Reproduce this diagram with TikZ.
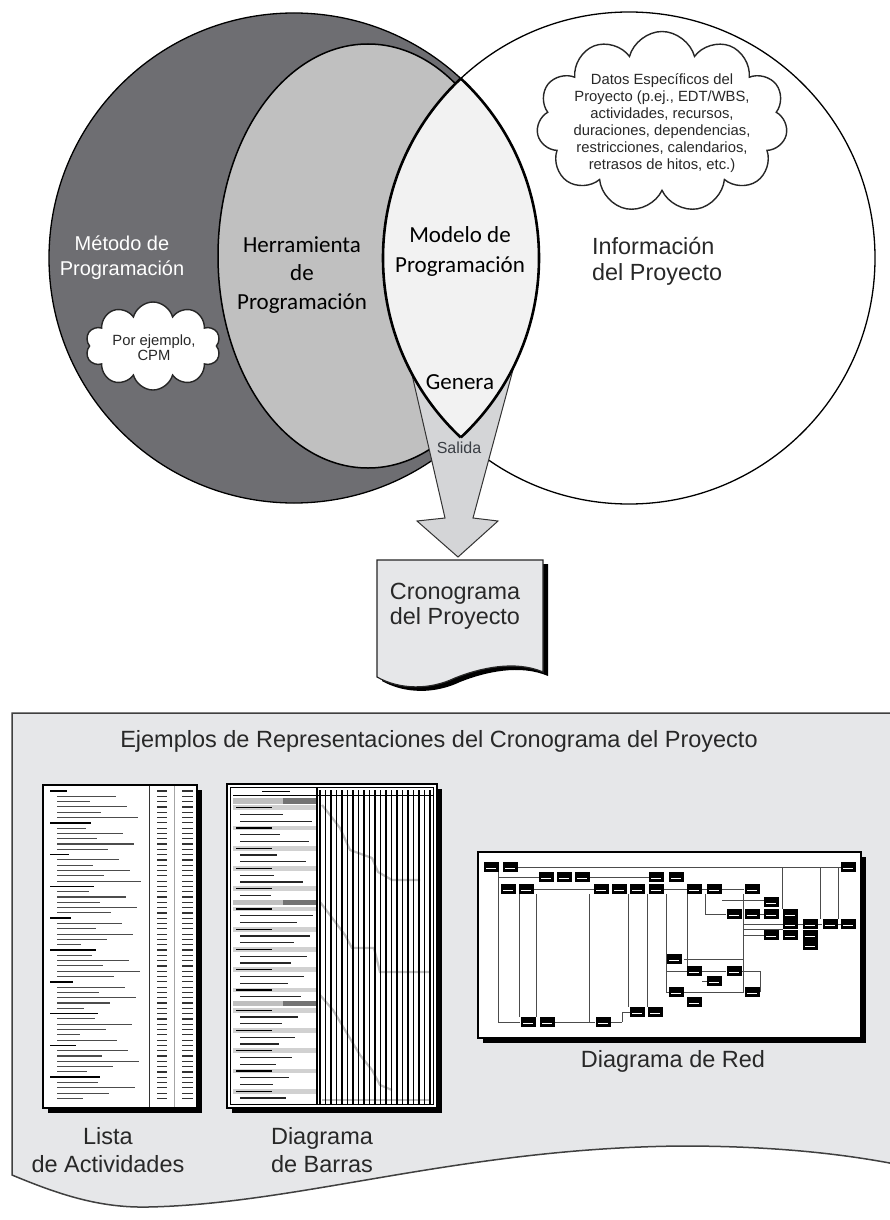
\documentclass[tikz,border=0pt]{standalone}
\usepackage{fontspec}
\setmainfont{Liberation Sans}
\newfontfamily\calib{Carlito}
\usetikzlibrary{shapes.symbols}
\definecolor{darkc}{RGB}{110,110,114}
\definecolor{midc}{RGB}{192,192,192}
\definecolor{lensc}{RGB}{242,242,242}
\definecolor{arrowc}{RGB}{212,213,215}
\definecolor{panelc}{RGB}{230,231,233}
\definecolor{txtc}{RGB}{40,40,40}
\definecolor{salc}{RGB}{58,62,68}
\tikzset{
  outl/.style={draw=black, line width=1.3},
  txt/.style={inner sep=0, align=center},
  cloudbox/.style={cloud, cloud puffs=#1, cloud ignores aspect, draw=black!85, line width=1.4, fill=white, inner sep=0},
  netl/.style={draw=black!70, line width=0.8},
  shadowc/.style={fill=black},
}
\begin{document}
\begin{tikzpicture}[x=1pt,y=-1pt]
\useasboundingbox (0,0) rectangle (890,1220);
\fill[white] (0,0) rectangle (890,1220);

% ---- Venn part ----
\filldraw[fill=darkc, outl] (294,258) circle[radius=245];
\filldraw[fill=white, outl] (629,258) circle[radius=246];
\filldraw[fill=midc, draw=black, line width=1.5] (368,256) ellipse[x radius=150, y radius=212];

% output arrow
\draw[fill=arrowc, draw=black!80, line width=1] (404,340) -- (445,518) -- (417,521) -- (458,557) -- (498,521) -- (473,518) -- (521,340) -- cycle;

% lens (intersection)
\begin{scope}
  \clip (294,258) circle[radius=245];
  \fill[lensc] (629,258) circle[radius=246];
  \draw[line width=2.6] (629,258) circle[radius=246];
\end{scope}
\begin{scope}
  \clip (629,258) circle[radius=246];
  \draw[line width=2.6] (294,258) circle[radius=245];
\end{scope}

% clouds
\node[cloudbox=10, minimum width=135, minimum height=88] (cloudA) at (153,346) {};
\node[cloudbox=11, minimum width=251, minimum height=181] (cloudB) at (662,122) {};

% texts
\node[txt, white, font=\fontsize{20}{25}\selectfont] (metodo) at (122,258) {Método de\\Programación};
\node[txt, black, font=\calib\fontsize{23}{28.5}\selectfont] (herr) at (302,275) {Herramienta\\de\\Programación};
\node[txt, black, font=\calib\fontsize{23}{30}\selectfont] (modelo) at (460,251) {Modelo de\\Programación};
\node[txt, black, font=\calib\fontsize{23}{28}\selectfont] (genera) at (460,382) {Genera};
\node[txt, salc, font=\fontsize{16}{19}\selectfont] (salida) at (459,448) {Salida};
\node[txt, align=left, anchor=west, txtc, font=\fontsize{23.4}{26}\selectfont] (info) at (592,261) {Información\\del Proyecto};
\node[txt, txtc, font=\fontsize{14.8}{15}\selectfont] (porej) at (154,348) {Por ejemplo,\\CPM};
\node[txt, txtc, font=\fontsize{14.8}{16.9}\selectfont] (datos) at (662,123) {Datos Específicos del\\Proyecto (p.ej., EDT/WBS,\\actividades, recursos,\\duraciones, dependencias,\\restricciones, calendarios,\\retrasos de hitos, etc.)};

% ---- schedule document ----
\fill[shadowc] (382,564) -- (548,564) -- (548,676) .. controls (520,664) and (485,672) .. (460,682) .. controls (435,694) and (405,694) .. (382,681) -- cycle;
\draw[fill=panelc, draw=black!85, line width=1.2] (377,560) -- (543,560) -- (543,672) .. controls (515,660) and (480,668) .. (455,678) .. controls (430,690) and (400,690) .. (377,677) -- cycle;
\node[txt, txtc, font=\fontsize{23.4}{25}\selectfont] (crono) at (455,606) {Cronograma\\del Proyecto};

% ---- bottom panel ----
\draw[fill=panelc, draw=black!75, line width=1.5] (900,713) -- (12,713) -- (12,1175) .. controls (60,1195) and (100,1208) .. (148,1207) .. controls (300,1204) and (460,1148) .. (682,1146) .. controls (780,1146) and (850,1155) .. (900,1165);
\node[txt, txtc, font=\fontsize{23.5}{28}\selectfont] (title) at (439,741) {Ejemplos de Representaciones del Cronograma del Proyecto};

% Lista de actividades thumbnail
\fill[shadowc] (48,790) rectangle (202,1113);
\draw[fill=white, draw=black, line width=1.2] (43,785) rectangle (197,1108);
\draw[line width=0.9, black!80] (149,786) -- (149,1107);
\draw[line width=0.5, black!35] (174,786) -- (174,1107);
\foreach \i in {0,...,58}{
  \pgfmathsetmacro\yy{791+5.3*\i}
  \pgfmathtruncatemacro\hd{mod(\i,6)==0 ? 1 : 0}
  \pgfmathsetmacro\len{22+mod(\i*37,63)}
  \ifnum\hd=1
    \draw[line width=1.7, black] (50,\yy) -- ++(\len*0.75,0);
  \else
    \draw[line width=1.1, black!70] (57,\yy) -- ++(\len,0);
  \fi
  \draw[line width=1.2, black!80] (157,\yy) -- (167,\yy);
  \draw[line width=1.2, black!80] (182,\yy) -- (193,\yy);
}

% Diagrama de barras thumbnail
\fill[shadowc] (232,789) rectangle (442,1113);
\draw[fill=white, draw=black, line width=1.5] (227,784) rectangle (437,1108);
\foreach \i in {0,...,44}{
  \pgfmathsetmacro\yy{801+6.75*\i}
  \pgfmathtruncatemacro\m{mod(\i,15)}
  \pgfmathtruncatemacro\n{mod(\i,3)}
  \pgfmathsetmacro\len{30+mod(\i*29,45)}
  \ifnum\m=0
    \fill[black!25] (233,\yy-2.6) rectangle (317,\yy+2.6);
    \fill[black!55] (283,\yy-2.6) rectangle (317,\yy+2.6);
  \else
    \ifnum\n=1
      \fill[black!18] (233,\yy-2.4) rectangle (317,\yy+2.4);
      \draw[line width=1.4] (236,\yy) -- (272,\yy);
    \else
      \draw[line width=1.1, black!85] (240,\yy) -- ++(\len,0);
    \fi
  \fi
}
% gantt bar trails
\draw[line width=2.2, black!25] (322,805) -- (330,815) -- (340,828) -- (350,850) -- (372,858) -- (378,872) -- (392,880) -- (420,880);
\draw[line width=2.2, black!25] (320,902) -- (330,915) -- (345,935) -- (352,948) -- (374,948) -- (380,972) -- (430,972);
\draw[line width=2.2, black!25] (320,995) -- (333,1010) -- (345,1030) -- (360,1055) -- (372,1070) -- (380,1085) -- (392,1090);
\draw[line width=2.2, black!25] (322,1100) -- (430,1100);
% grid
\foreach \k in {0,...,20}{
  \draw[line width=1.7] (320+5.5*\k,790) -- (320+5.5*\k,1104);
}
\draw[line width=0.9] (230.5,787.5) rectangle (433.5,1104.5);
\draw[line width=1.2] (317,787.5) -- (317,1104.5);
\draw[line width=0.8] (233,795.5) -- (433,795.5);
\draw[line width=1.3] (262,791.5) -- (290,791.5);

% Diagrama de red thumbnail
\fill[shadowc] (483,857) rectangle (866,1043);
\draw[fill=white, draw=black, line width=1.2] (478,852) rectangle (861,1038);
\foreach \xa/\ya/\xb/\yb in {518/867/841/867, 498/872/498/1022, 498/1022/520/1022, 498/877/539/877, 589/877/649/877,
  534/889/594/889, 664/889/687/889, 702/889/707/889, 722/889/744/889, 519/894/519/1017, 536/894/536/1017,
  589/894/589/1022, 554/1022/595/1022, 611/1022/622/1022, 622/1022/622/1012, 622/1012/630/1012,
  628/894/628/1007, 647/894/647/1007, 666/894/666/992, 666/959/667/959, 666/971/687/971, 666/992/669/992,
  684/992/744/992, 702/971/726/971, 705/894/705/914, 705/914/726/914, 722/900/764/900, 743/894/743/992,
  760/914/764/914, 782/867/782/909, 820/867/820/919, 838/867/838/919, 743/924/783/924, 743/929/783/929,
  798/924/803/924, 818/924/822/924, 838/924/841/924, 743/935/764/935, 687/894/687/966, 702/981/707/981,
  684/959/743/959, 742/971/760/971, 760/971/760/992}{
  \draw[netl] (\xa,\ya) -- (\xb,\yb);
}
\foreach \bx/\by in {491/867, 510/867, 848/867,
  546/877, 564/877, 582/877, 656/877, 676/877,
  508/889, 526/889, 601/889, 619/889, 637/889, 656/889, 694/889, 714/889, 752/889,
  771/902,
  734/914, 752/914, 771/914, 790/914,
  790/924, 810/924, 830/924, 848/924,
  771/935, 790/935, 810/935,
  810/945,
  674/959,
  694/971, 734/971,
  714/981,
  676/992, 752/992,
  694/1002,
  637/1012, 655/1012,
  528/1022, 547/1022, 603/1022}{
  \fill[black] (\bx-7.5,\by-5) rectangle (\bx+7.5,\by+5);
  \draw[white, line width=0.5] (\bx-5,\by+1.5) -- (\bx+5,\by+1.5);
}

% labels
\node[txt, txtc, font=\fontsize{23.5}{28}\selectfont] (lista) at (108,1150) {Lista\\de Actividades};
\node[txt, align=left, txtc, font=\fontsize{23.5}{28}\selectfont] (barras) at (322,1150) {Diagrama\\de Barras};
\node[txt, txtc, font=\fontsize{23.5}{28}\selectfont] (red) at (673,1061) {Diagrama de Red};
\end{tikzpicture}
\end{document}
